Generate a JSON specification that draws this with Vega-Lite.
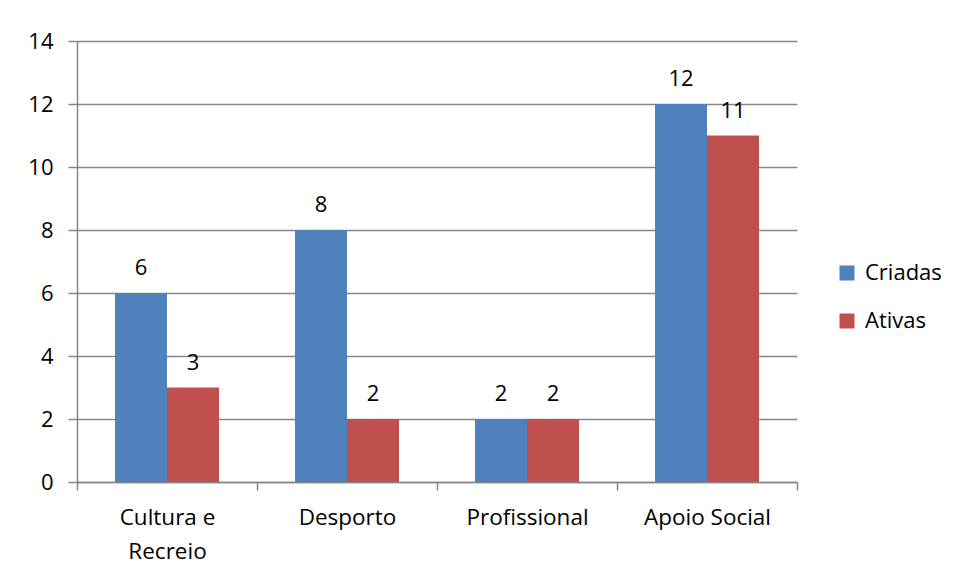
{
  "$schema": "https://vega.github.io/schema/vega-lite/v6.json",
  "width": 720,
  "height": 441,
  "autosize": {"type": "none"},
  "padding": {"left": 77, "top": 41, "right": 160, "bottom": 91},
  "background": "white",
  "config": {
    "font": "Open Sans",
    "view": {"stroke": null}
  },
  "data": {
    "values": [
      {"categoria": "Cultura e Recreio", "serie": "Criadas", "valor": 6},
      {"categoria": "Cultura e Recreio", "serie": "Ativas", "valor": 3},
      {"categoria": "Desporto", "serie": "Criadas", "valor": 8},
      {"categoria": "Desporto", "serie": "Ativas", "valor": 2},
      {"categoria": "Profissional", "serie": "Criadas", "valor": 2},
      {"categoria": "Profissional", "serie": "Ativas", "valor": 2},
      {"categoria": "Apoio Social", "serie": "Criadas", "valor": 12},
      {"categoria": "Apoio Social", "serie": "Ativas", "valor": 11}
    ]
  },
  "encoding": {
    "x": {
      "field": "categoria",
      "type": "nominal",
      "sort": ["Cultura e Recreio", "Desporto", "Profissional", "Apoio Social"],
      "scale": {"paddingInner": 0, "paddingOuter": 0},
      "axis": {
        "title": null,
        "labelAngle": 0,
        "labelFontSize": 22.5,
        "labelColor": "black",
        "labelPadding": 16,
        "labelLineHeight": 34,
        "labelExpr": "datum.label == 'Cultura e Recreio' ? ['Cultura e', 'Recreio'] : datum.label",
        "tickBand": "extent",
        "tickColor": "#868686",
        "tickSize": 8,
        "tickWidth": 1.5,
        "domainColor": "#868686",
        "domainWidth": 1.5,
        "grid": false
      }
    },
    "xOffset": {
      "field": "serie",
      "type": "nominal",
      "sort": ["Criadas", "Ativas"],
      "scale": {"paddingInner": 0, "paddingOuter": 0.7308}
    },
    "y": {
      "field": "valor",
      "type": "quantitative",
      "scale": {"domain": [0, 14], "nice": false},
      "axis": {
        "title": null,
        "values": [0, 2, 4, 6, 8, 10, 12, 14],
        "labelFontSize": 22,
        "labelColor": "black",
        "labelPadding": 15,
        "tickColor": "#868686",
        "tickSize": 9,
        "tickWidth": 1.5,
        "domainColor": "#868686",
        "domainWidth": 1.5,
        "gridColor": "#868686",
        "gridWidth": 1.5
      }
    }
  },
  "layer": [
    {
      "mark": {"type": "bar"},
      "encoding": {
        "color": {
          "field": "serie",
          "type": "nominal",
          "sort": ["Criadas", "Ativas"],
          "scale": {"domain": ["Criadas", "Ativas"], "range": ["#4F81BD", "#C0504D"]},
          "legend": {
            "title": null,
            "orient": "none",
            "legendX": 759,
            "legendY": 221,
            "symbolType": "square",
            "symbolSize": 225,
            "symbolStrokeWidth": 0,
            "labelFontSize": 22,
            "labelColor": "black",
            "rowPadding": 26,
            "labelOffset": 7
          }
        }
      }
    },
    {
      "mark": {"type": "text", "baseline": "alphabetic", "dy": -18, "fontSize": 22, "color": "black"},
      "encoding": {
        "text": {"field": "valor", "type": "quantitative"}
      }
    }
  ]
}
